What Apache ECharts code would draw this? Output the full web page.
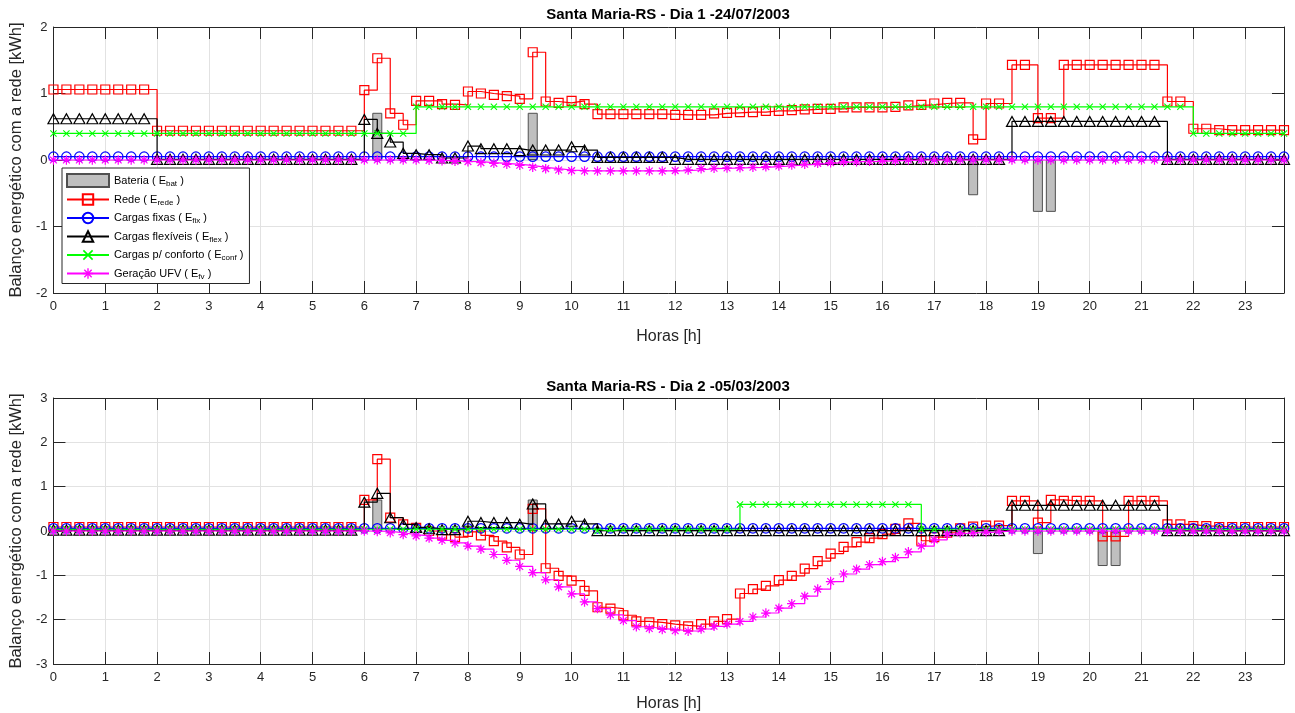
<!DOCTYPE html>
<html><head><meta charset="utf-8">
<script src="https://cdn.jsdelivr.net/npm/echarts@6/dist/echarts.min.js"></script>
<style>html,body{margin:0;padding:0;background:#fff}#c{width:1295px;height:713px}</style>
</head><body><div id="c"></div>
<script>
// ---------- DATA (quarter-hour steps, 96 per day) ----------
const hours = []; for (let i = 0; i < 96; i++) hours.push(i * 0.25);

const seriesNames = ['Bateria', 'Rede', 'Cargas fixas', 'Cargas flexíveis', 'Cargas p/ conforto', 'Geração UFV'];
const seriesSubs  = ['bat', 'rede', 'fix', 'flex', 'conf', 'fv'];
const titles = ['Santa Maria-RS - Dia 1 -24/07/2003', 'Santa Maria-RS - Dia 2 -05/03/2003'];

// Day 1
const bat1 = [
 0,0,0,0,0,0,0,0, 0,0,0,0,0,0,0,0, 0,0,0,0,0,0,0,0,
 0,0.71,0,0,0,0,0,0, 0,0,0,0,0,0.71,0,0, 0,0,0,0,0,0,0,0,
 0,0,0,0,0,0,0,0, 0,0,0,0,0,0,0,0, 0,0,0,0,0,0,0,-0.53,
 0,0,0,0,-0.78,-0.78,0,0, 0,0,0,0,0,0,0,0, 0,0,0,0,0,0,0,0];
const red1 = [
 1.06,1.06,1.06,1.06,1.06,1.06,1.06,1.06,
 0.44,0.44,0.44,0.44,0.44,0.44,0.44,0.44,
 0.44,0.44,0.44,0.44,0.44,0.44,0.44,0.44,
 1.05,1.53,0.70,0.53,0.89,0.89,0.84,0.83,
 1.03,1.00,0.98,0.96,0.92,1.62,0.88,0.86,
 0.89,0.84,0.69,0.69,0.69,0.69,0.69,0.69,
 0.68,0.68,0.68,0.70,0.71,0.72,0.72,0.74,
 0.74,0.75,0.76,0.77,0.77,0.79,0.79,0.79,
 0.79,0.80,0.82,0.83,0.85,0.86,0.86,0.31,
 0.85,0.85,1.43,1.43,0.63,0.63,1.43,1.43,
 1.43,1.43,1.43,1.43,1.43,1.43,0.88,0.88,
 0.47,0.47,0.45,0.45,0.45,0.45,0.45,0.45];
const fix1 = [
 0.05,0.05,0.05,0.05,0.05,0.05,0.05,0.05, 0.05,0.05,0.05,0.05,0.05,0.05,0.05,0.05,
 0.05,0.05,0.05,0.05,0.05,0.05,0.05,0.05, 0.05,0.05,0.05,0.05,0.05,0.05,0.05,0.05,
 0.05,0.05,0.05,0.05,0.05,0.05,0.05,0.05, 0.05,0.05,0.05,0.05,0.05,0.05,0.05,0.05,
 0.05,0.05,0.05,0.05,0.05,0.05,0.05,0.05, 0.05,0.05,0.05,0.05,0.05,0.05,0.05,0.05,
 0.05,0.05,0.05,0.05,0.05,0.05,0.05,0.05, 0.05,0.05,0.05,0.05,0.05,0.05,0.05,0.05,
 0.05,0.05,0.05,0.05,0.05,0.05,0.05,0.05, 0.05,0.05,0.05,0.05,0.05,0.05,0.05,0.05];
const flex1 = [
 0.62,0.62,0.62,0.62,0.62,0.62,0.62,0.62,
 0.01,0.01,0.01,0.01,0.01,0.01,0.01,0.01,
 0.01,0.01,0.01,0.01,0.01,0.01,0.01,0.01,
 0.61,0.40,0.27,0.10,0.08,0.08,0.03,0.03,
 0.21,0.17,0.17,0.17,0.14,0.15,0.15,0.15,
 0.20,0.15,0.04,0.04,0.04,0.04,0.04,0.04,
 0.01,0.01,0.01,0.01,0.01,0.01,0.01,0.01,
 0.01,0.01,0.01,0.01,0.01,0.01,0.01,0.01,
 0.01,0.01,0.01,0.01,0.01,0.01,0.01,0.01,
 0.01,0.01,0.58,0.58,0.58,0.58,0.58,0.58,
 0.58,0.58,0.58,0.58,0.58,0.58,0.01,0.01,
 0.01,0.01,0.01,0.01,0.01,0.01,0.01,0.01];
const conf1 = [
 0.40,0.40,0.40,0.40,0.40,0.40,0.40,0.40,
 0.40,0.40,0.40,0.40,0.40,0.40,0.40,0.40,
 0.40,0.40,0.40,0.40,0.40,0.40,0.40,0.40,
 0.40,0.40,0.40,0.40,0.80,0.80,0.80,0.80,
 0.80,0.80,0.80,0.80,0.80,0.80,0.80,0.80,
 0.80,0.80,0.80,0.80,0.80,0.80,0.80,0.80,
 0.80,0.80,0.80,0.80,0.80,0.80,0.80,0.80,
 0.80,0.80,0.80,0.80,0.80,0.80,0.80,0.80,
 0.80,0.80,0.80,0.80,0.80,0.80,0.80,0.80,
 0.80,0.80,0.80,0.80,0.80,0.80,0.80,0.80,
 0.80,0.80,0.80,0.80,0.80,0.80,0.80,0.80,
 0.40,0.40,0.40,0.40,0.40,0.40,0.40,0.40];
const pv1 = [
 0,0,0,0,0,0,0,0, 0,0,0,0,0,0,0,0, 0,0,0,0,0,0,0,0,
 0,0,0,0,0,-0.005,-0.01,-0.02,
 -0.025,-0.04,-0.05,-0.065,-0.08,-0.11,-0.13,-0.15,
 -0.16,-0.165,-0.165,-0.165,-0.165,-0.165,-0.165,-0.165,
 -0.16,-0.15,-0.13,-0.125,-0.12,-0.115,-0.11,-0.10,
 -0.09,-0.075,-0.065,-0.05,-0.04,-0.025,-0.025,-0.02,
 -0.01,-0.01,0,0,0,0,0,0,
 0,0,0,0,0,0,0,0, 0,0,0,0,0,0,0,0, 0,0,0,0,0,0,0,0];

// Day 2
const bat2 = [
 0,0,0,0,0,0,0,0, 0,0,0,0,0,0,0,0, 0,0,0,0,0,0,0,0,
 0,0.71,0,0,0,0,0,0, 0,0,0,0,0,0.71,0,0, 0,0,0,0,0,0,0,0,
 0,0,0,0,0,0,0,0, 0,0,0,0,0,0,0,0, 0,0,0,0,0,0,0,0,
 0,0,0,0,-0.52,0,0,0, 0,-0.79,-0.79,0,0,0,0,0, 0,0,0,0,0,0,0,0];
const red2 = [
 0.09,0.09,0.09,0.09,0.09,0.09,0.09,0.09,
 0.09,0.09,0.09,0.09,0.09,0.09,0.09,0.09,
 0.09,0.09,0.09,0.09,0.09,0.09,0.09,0.09,
 0.70,1.62,0.30,0.15,0.07,0.00,-0.08,-0.14,
 -0.02,-0.10,-0.23,-0.37,-0.53,0.50,-0.84,-1.01,
 -1.12,-1.35,-1.72,-1.75,-1.90,-2.04,-2.06,-2.10,
 -2.13,-2.15,-2.10,-2.04,-1.99,-1.41,-1.31,-1.24,
 -1.11,-1.01,-0.85,-0.68,-0.51,-0.36,-0.25,-0.16,
 -0.07,0.05,0.17,-0.22,-0.14,-0.04,0.06,0.10,
 0.12,0.12,0.68,0.68,0.19,0.70,0.68,0.68,
 0.68,-0.12,-0.12,0.68,0.68,0.68,0.15,0.15,
 0.11,0.11,0.09,0.09,0.09,0.09,0.09,0.09];
const fix2 = [
 0.06,0.06,0.06,0.06,0.06,0.06,0.06,0.06, 0.06,0.06,0.06,0.06,0.06,0.06,0.06,0.06,
 0.06,0.06,0.06,0.06,0.06,0.06,0.06,0.06, 0.06,0.06,0.06,0.06,0.06,0.06,0.06,0.06,
 0.06,0.06,0.06,0.06,0.06,0.06,0.06,0.06, 0.06,0.06,0.06,0.06,0.06,0.06,0.06,0.06,
 0.06,0.06,0.06,0.06,0.06,0.06,0.06,0.06, 0.06,0.06,0.06,0.06,0.06,0.06,0.06,0.06,
 0.06,0.06,0.06,0.06,0.06,0.06,0.06,0.06, 0.06,0.06,0.06,0.06,0.06,0.06,0.06,0.06,
 0.06,0.06,0.06,0.06,0.06,0.06,0.06,0.06, 0.06,0.06,0.06,0.06,0.06,0.06,0.06,0.06];
const flex2 = [
 0.02,0.02,0.02,0.02,0.02,0.02,0.02,0.02,
 0.02,0.02,0.02,0.02,0.02,0.02,0.02,0.02,
 0.02,0.02,0.02,0.02,0.02,0.02,0.02,0.02,
 0.65,0.85,0.30,0.15,0.08,0.05,0.03,0.03,
 0.22,0.19,0.19,0.19,0.15,0.61,0.16,0.16,
 0.22,0.16,0.01,0.01,0.01,0.01,0.01,0.01,
 0.01,0.01,0.01,0.01,0.01,0.01,0.01,0.01,
 0.01,0.01,0.01,0.01,0.01,0.01,0.01,0.01,
 0.01,0.01,0.01,0.01,0.01,0.01,0.01,0.01,
 0.01,0.01,0.58,0.58,0.58,0.58,0.58,0.58,
 0.58,0.58,0.58,0.58,0.58,0.58,0.01,0.01,
 0.01,0.01,0.01,0.01,0.01,0.01,0.01,0.01];
const conf2 = [
 0.04,0.04,0.04,0.04,0.04,0.04,0.04,0.04,
 0.04,0.04,0.04,0.04,0.04,0.04,0.04,0.04,
 0.04,0.04,0.04,0.04,0.04,0.04,0.04,0.04,
 0.04,0.04,0.04,0.04,0.04,0.04,0.04,0.04,
 0.04,0.04,0.04,0.04,0.04,0.04,0.04,0.04,
 0.04,0.04,0.00,0.04,0.04,0.04,0.04,0.04,
 0.04,0.04,0.04,0.04,0.04,0.60,0.60,0.60,
 0.60,0.60,0.60,0.60,0.60,0.60,0.60,0.60,
 0.60,0.60,0.60,0.04,0.04,0.04,0.04,0.04,
 0.04,0.04,0.04,0.04,0.04,0.04,0.04,0.04,
 0.04,0.04,0.04,0.04,0.04,0.04,0.04,0.04,
 0.04,0.04,0.04,0.04,0.04,0.04,0.04,0.04];
const pv2 = [
 0,0,0,0,0,0,0,0, 0,0,0,0,0,0,0,0, 0,0,0,0,0,0,0,0,
 0,-0.01,-0.04,-0.08,-0.11,-0.16,-0.21,-0.27,
 -0.34,-0.41,-0.53,-0.66,-0.80,-0.94,-1.10,-1.26,
 -1.42,-1.60,-1.75,-1.89,-2.02,-2.16,-2.20,-2.22,
 -2.25,-2.26,-2.21,-2.15,-2.10,-2.04,-1.94,-1.85,
 -1.74,-1.64,-1.47,-1.31,-1.14,-0.97,-0.86,-0.76,
 -0.69,-0.60,-0.47,-0.34,-0.20,-0.07,-0.04,-0.04,
 -0.02,0,0,0,0,0,0,0,
 0,0,0,0,0,0,0,0, 0,0,0,0,0,0,0,0];

// ---------- STYLE ----------
const FF = "'Liberation Sans', Arial, Helvetica, sans-serif";
const AX = '#262626', GRID = '#e2e2e2';
const STAR = 'path://M0 8.7L20 8.7L20 11.3L0 11.3Z M8.7 0L11.3 0L11.3 20L8.7 20Z M3.85 2.0L18.0 16.15L16.15 18.0L2.0 3.85Z M16.15 2.0L18.0 3.85L3.85 18.0L2.0 16.15Z';
const XMK = 'path://M2.2 0L20 17.8L17.8 20L0 2.2Z M17.8 0L20 2.2L2.2 20L0 17.8Z';

const gridBoxes = [{left: 52, right: 11, top: 27, height: 266}, {left: 52, right: 11, top: 398, height: 267}];
const yRanges = [[-2, 2], [-3, 3]];
const xNameGaps = [36, 32];

const xAxes = [], yAxes = [];
gridBoxes.forEach((g, gi) => {
  xAxes.push({gridIndex: gi, type: 'value', min: 0, max: 23.75, interval: 1, position: 'bottom',
    axisLine: {show: true, onZero: false, lineStyle: {color: AX, width: 1}},
    axisTick: {show: true, inside: true, length: 12, lineStyle: {color: AX, width: 1}},
    axisLabel: {color: AX, fontSize: 13, fontFamily: FF, margin: 7, formatter: v => Number.isInteger(v) ? String(v) : ''},
    splitLine: {show: true, lineStyle: {color: GRID, width: 1}},
    name: 'Horas [h]', nameLocation: 'middle', nameGap: xNameGaps[gi],
    nameTextStyle: {color: AX, fontSize: 16, fontFamily: FF}});
  xAxes.push({gridIndex: gi, type: 'value', min: 0, max: 23.75, interval: 1, position: 'top',
    axisLine: {show: true, onZero: false, lineStyle: {color: AX, width: 1}},
    axisTick: {show: true, inside: true, length: 12, lineStyle: {color: AX, width: 1}},
    axisLabel: {show: false}, splitLine: {show: false}});
  yAxes.push({gridIndex: gi, type: 'value', min: yRanges[gi][0], max: yRanges[gi][1], interval: 1, position: 'left',
    axisLine: {show: true, onZero: false, lineStyle: {color: AX, width: 1}},
    axisTick: {show: true, inside: true, length: 12, lineStyle: {color: AX, width: 1}},
    axisLabel: {color: AX, fontSize: 13, fontFamily: FF, margin: 6},
    splitLine: {show: true, lineStyle: {color: GRID, width: 1}},
    name: 'Balanço energético com a rede [kWh]', nameLocation: 'middle', nameGap: 20, nameRotate: 90,
    nameTextStyle: {color: AX, fontSize: 16.5, fontFamily: FF}});
  yAxes.push({gridIndex: gi, type: 'value', min: yRanges[gi][0], max: yRanges[gi][1], interval: 1, position: 'right',
    axisLine: {show: true, onZero: false, lineStyle: {color: AX, width: 1}},
    axisTick: {show: true, inside: true, length: 12, lineStyle: {color: AX, width: 1}},
    axisLabel: {show: false}, splitLine: {show: false}});
});

function pairs(vals) { return hours.map((h, i) => [h, vals[i]]); }
function barSeries(vals, gi) {
  return {type: 'bar', name: seriesNames[0], xAxisIndex: gi * 2, yAxisIndex: gi * 2, barWidth: 10,
    data: hours.map((h, i) => [h, vals[i]]).filter(p => p[1] !== 0),
    itemStyle: {color: '#bfbfbf', borderColor: '#505050', borderWidth: 1}, silent: true, z: 1};
}
function stepSeries(nameIdx, vals, gi, color, symbol, size, hollow) {
  return {type: 'line', name: seriesNames[nameIdx], xAxisIndex: gi * 2, yAxisIndex: gi * 2,
    step: 'end', data: pairs(vals), showAllSymbol: true, symbol: symbol, symbolSize: size,
    lineStyle: {color: color, width: 1.2},
    itemStyle: hollow ? {color: 'rgba(255,255,255,0)', borderColor: color, borderWidth: 1.2}
                      : {color: color, borderWidth: 0},
    silent: true, z: 2 + nameIdx};
}
const days = [
  {bat: bat1, red: red1, fix: fix1, flex: flex1, conf: conf1, pv: pv1},
  {bat: bat2, red: red2, fix: fix2, flex: flex2, conf: conf2, pv: pv2}];
const series = [];
days.forEach((d, gi) => {
  series.push(barSeries(d.bat, gi));
  series.push(stepSeries(1, d.red, gi, '#ff0000', 'rect', 9, true));
  series.push(stepSeries(2, d.fix, gi, '#0000ff', 'circle', 9.5, true));
  series.push(stepSeries(3, d.flex, gi, '#000000', 'triangle', [11, 10], true));
  series.push(stepSeries(4, d.conf, gi, '#00ff00', XMK, 7, false));
  series.push(stepSeries(5, d.pv, gi, '#ff00ff', STAR, 9.5, false));
});

const subMap = {}; seriesNames.forEach((n, i) => subMap[n] = seriesSubs[i]);

const chart = echarts.init(document.getElementById('c'), null, {renderer: 'canvas'});
chart.setOption({
  animation: false,
  backgroundColor: '#ffffff',
  grid: gridBoxes,
  xAxis: xAxes,
  yAxis: yAxes,
  legend: {
    data: [{name: seriesNames[0], icon: 'rect'}].concat(seriesNames.slice(1)),
    orient: 'vertical', left: 62, top: 168, itemWidth: 42, itemHeight: 13, itemGap: 4.5,
    backgroundColor: '#ffffff', borderColor: AX, borderWidth: 1, padding: [5, 6, 3, 4],
    selectedMode: false,
    formatter: n => '{n|' + n + ' ( E}{s|' + subMap[n] + '}{n| )}',
    textStyle: {color: '#000', fontSize: 11, fontFamily: FF,
      rich: {n: {fontSize: 11, fontFamily: FF, color: '#000', lineHeight: 14},
             s: {fontSize: 8, fontFamily: FF, color: '#000', lineHeight: 9, padding: [6, 0, 0, 0]}}}
  },
  graphic: [
    {type: 'text', x: 668, y: 15, silent: true,
     style: {text: titles[0], font: 'bold 15px ' + FF, fill: '#000', align: 'center', verticalAlign: 'middle', textAlign: 'center', textVerticalAlign: 'middle'}},
    {type: 'text', x: 668, y: 387, silent: true,
     style: {text: titles[1], font: 'bold 15px ' + FF, fill: '#000', align: 'center', verticalAlign: 'middle', textAlign: 'center', textVerticalAlign: 'middle'}}
  ],
  series: series
});
</script></body></html>
